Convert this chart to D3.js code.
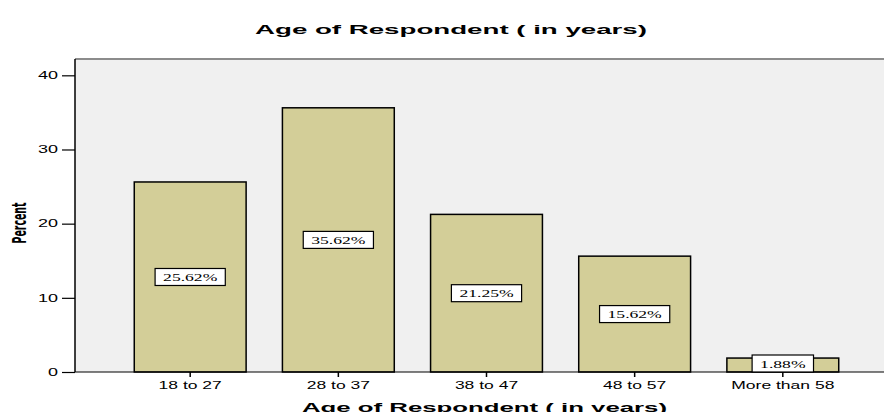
<!DOCTYPE html>
<html>
<head>
<meta charset="utf-8">
<script src="https://d3js.org/d3.v7.min.js"></script>
<style>
  body { margin: 0; background: #fff; }
  svg { display: block; }
</style>
</head>
<body>
<div id="chart"></div>
<script>

// data
var categories = ["18 to 27", "28 to 37", "38 to 47", "48 to 57", "More than 58"];
var percents = [25.62, 35.62, 21.25, 15.62, 1.88];
var labels = ["25.62%", "35.62%", "21.25%", "15.62%", "1.88%"];
var yTicks = [0, 10, 20, 30, 40];

var W = 884, H = 412;
var plot = {left: 75, right: 898, top: 59, bottom: 372};

var svg = d3.select("#chart")
  .append("svg")
    .attr("width", W)
    .attr("height", H);

// scales
var x = d3.scaleBand()
  .domain(categories)
  .range([plot.left, plot.right])
  .paddingInner(0.245)
  .paddingOuter(0.4);

var y = d3.scaleLinear()
  .domain([0, 42.2])
  .range([plot.bottom, plot.top]);

// plot background
svg.append("rect")
  .attr("x", plot.left)
  .attr("y", plot.top)
  .attr("width", W - plot.left)
  .attr("height", plot.bottom - plot.top)
  .style("fill", "#f0f0f0");

// grey top frame line
svg.append("line")
  .attr("x1", plot.left).attr("x2", W)
  .attr("y1", plot.top).attr("y2", plot.top)
  .style("stroke", "#8c8c8c")
  .style("stroke-width", 2);

// bars
svg.selectAll(".bar")
  .data(percents)
  .enter()
  .append("rect")
    .attr("class", "bar")
    .attr("x", function(d, i) { return x(categories[i]); })
    .attr("y", function(d) { return y(d); })
    .attr("width", x.bandwidth())
    .attr("height", function(d) { return y(0) - y(d); })
    .style("fill", "#d3ce98")
    .style("stroke", "#000")
    .style("stroke-width", 1.5);

// y axis
var yAxis = svg.append("g")
  .attr("transform", "translate(" + plot.left + ",0)")
  .call(d3.axisLeft(y).tickValues(yTicks).tickSize(13).tickPadding(4).tickSizeOuter(0));
yAxis.select(".domain").remove();
yAxis.append("line")
  .attr("x1", 0).attr("x2", 0)
  .attr("y1", plot.top).attr("y2", plot.bottom)
  .style("stroke", "#000").style("stroke-width", 1.5);
yAxis.selectAll(".tick line").style("stroke-width", 1.2);
yAxis.selectAll(".tick text")
  .style("font-family", "'Liberation Sans', Arial, sans-serif")
  .style("font-size", "10px")
  .style("fill", "#000")
  .attr("x", -17 / 1.8)
  .attr("transform", "scale(1.8,1)");

// x axis
var xAxis = svg.append("g")
  .attr("transform", "translate(0," + plot.bottom + ")")
  .call(d3.axisBottom(x).tickSize(5).tickPadding(5).tickSizeOuter(0));
xAxis.select(".domain").remove();
xAxis.append("line")
  .attr("x1", plot.left).attr("x2", W)
  .attr("y1", 0).attr("y2", 0)
  .style("stroke", "#000").style("stroke-width", 1.2);
xAxis.selectAll(".tick line").style("stroke-width", 1.5);
xAxis.selectAll(".tick text")
  .style("font-family", "'Liberation Sans', Arial, sans-serif")
  .style("font-size", "10px")
  .style("fill", "#000")
  .attr("transform", "scale(1.75,1)");

// value labels in boxes
var lab = svg.selectAll(".vlab")
  .data(percents)
  .enter()
  .append("g")
    .attr("class", "vlab")
    .attr("transform", function(d, i) {
      var cy = Math.min(y(d / 2), plot.bottom - 8.5);
      return "translate(" + (x(categories[i]) + x.bandwidth() / 2) + "," + cy + ")";
    });

lab.append("rect")
  .style("fill", "#fff")
  .style("stroke", "#000")
  .style("stroke-width", 1.2);

lab.append("text")
  .text(function(d, i) { return labels[i]; })
  .attr("text-anchor", "middle")
  .attr("y", 4)
  .attr("transform", "scale(1.6,1)")
  .style("font-family", "'Liberation Serif', 'Times New Roman', serif")
  .style("font-size", "11px")
  .style("fill", "#000");

lab.each(function() {
  var g = d3.select(this);
  var tw = g.select("text").node().getComputedTextLength() * 1.6;
  var bw = tw + 16;
  g.select("rect")
    .attr("x", -bw / 2)
    .attr("y", -8.5)
    .attr("width", bw)
    .attr("height", 17);
});

// titles
svg.append("text")
  .attr("x", 451)
  .attr("y", 33.5)
  .attr("text-anchor", "middle")
  .attr("textLength", 392)
  .attr("lengthAdjust", "spacingAndGlyphs")
  .style("font-family", "'Liberation Sans', Arial, sans-serif")
  .style("font-weight", "bold")
  .style("font-size", "13px")
  .text("Age of Respondent ( in years)");

svg.append("text")
  .attr("x", 484.5)
  .attr("y", 412)
  .attr("text-anchor", "middle")
  .attr("textLength", 365)
  .attr("lengthAdjust", "spacingAndGlyphs")
  .style("font-family", "'Liberation Sans', Arial, sans-serif")
  .style("font-weight", "bold")
  .style("font-size", "13px")
  .text("Age of Respondent ( in years)");

svg.append("text")
  .attr("transform", "translate(26,223) rotate(-90)")
  .attr("text-anchor", "middle")
  .attr("textLength", 41)
  .attr("lengthAdjust", "spacingAndGlyphs")
  .style("font-family", "'Liberation Sans Narrow', 'DejaVu Sans Condensed', sans-serif")
  .style("font-weight", "bold")
  .style("font-size", "19px")
  .text("Percent");

</script>
</body>
</html>
